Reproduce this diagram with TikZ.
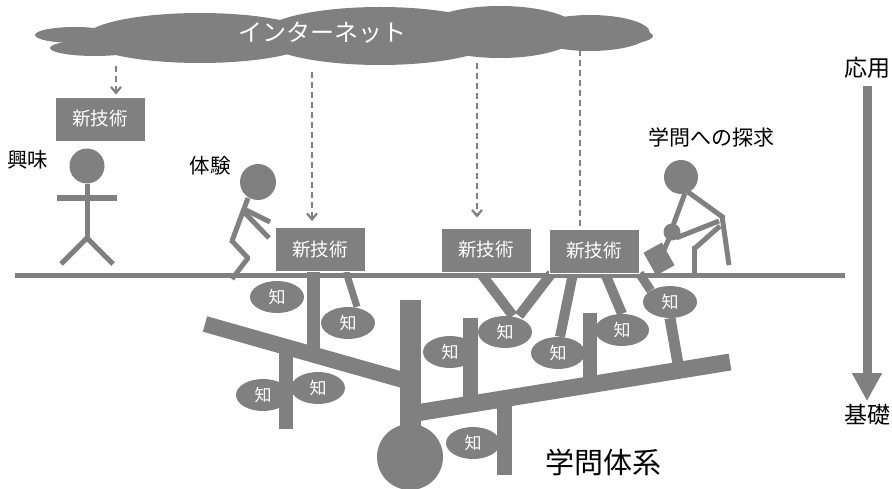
\documentclass[tikz,border=0pt]{standalone}
\usepackage{fontspec}
\setmainfont{Noto Sans CJK JP}
\usetikzlibrary{arrows.meta,shapes.geometric,backgrounds}
\definecolor{rootgray}{RGB}{128,128,128}

\begin{document}
\begin{tikzpicture}[x=1pt, y=-1pt,
  techbox/.style={rectangle, fill=rootgray, draw=white, line width=0.8pt, minimum width=90pt, minimum height=44pt, text=white, font=\fontsize{18.5}{20}\selectfont},
  chi/.style={ellipse, fill=rootgray, minimum width=54pt, minimum height=32pt, inner sep=0pt, text=white, font=\fontsize{17}{18}\selectfont},
  head/.style={circle, fill=rootgray, inner sep=0pt},
  stick/.style={draw=rootgray, line width=5pt},
  bar/.style={draw=rootgray},
  feed/.style={draw=rootgray, line width=2.2pt, dash pattern=on 6pt off 4pt, -{Straight Barb[length=6pt,width=10pt]}},
  lbl/.style={text=black, inner sep=0pt}]
\useasboundingbox (0,0) rectangle (892,489);

% the cloud
\fill[rootgray] (75,35) ellipse [x radius=40, y radius=8];
\fill[rootgray] (95,48) ellipse [x radius=45, y radius=8];
\fill[rootgray] (200,38) ellipse [x radius=115, y radius=25];
\fill[rootgray] (380,36) ellipse [x radius=120, y radius=29];
\fill[rootgray] (500,32) ellipse [x radius=80, y radius=26];
\fill[rootgray] (590,33) ellipse [x radius=60, y radius=18];
\fill[rootgray] (610,36) ellipse [x radius=43, y radius=9];
\node (net) [text=white, font=\fontsize{24}{26}\selectfont] at (322,33) {インターネット};

\coordinate (d1) at (116,66);
\coordinate (d2) at (312,72);
\coordinate (d3) at (477,63);
\coordinate (d4) at (580,50);

% ground
\draw[bar, line width=5pt] (15,276) -- (845,276);

% new technology boxes
\node (tech1) [techbox] at (100,119) {新技術};
\node (tech2) [techbox] at (320,249.5) {新技術};
\node (tech3) [techbox] at (486,250) {新技術};
\node (tech4) [techbox] at (594,251) {新技術};

\draw[feed, shorten >=2pt] (d1) -- (d1 |- tech1.north);
\draw[feed, shorten >=6pt] (d2) -- (d2 |- tech2.north);
\draw[feed, shorten >=10pt] (d3) -- (d3 |- tech3.north);
\begin{pgfonlayer}{background}
\draw[feed, shorten >=-9pt] (d4) -- (d4 |- tech4.north);
\end{pgfonlayer}

% the body of knowledge
\draw[bar, line width=21pt] (410,300) -- (410,440);
\fill[rootgray] (410,457) circle (33);
\draw[bar, line width=16pt] (205,324) -- (410,382);
\draw[bar, line width=17pt] (410,414) -- (730,362);
\draw[bar, line width=14pt] (286,347) -- (286,429);
\draw[bar, line width=15pt] (470,318) -- (470,404);
\draw[bar, line width=14pt] (590,313) -- (590,386);
\draw[bar, line width=15pt] (504,400) -- (504,475);

\node (k1) [chi] at (277,297) {知};
\node (k2) [chi] at (348,323) {知};
\node (k3) [chi] at (263,395) {知};
\node (k4) [chi] at (318,388) {知};
\node (k5) [chi] at (473,443) {知};
\node (k6) [chi] at (450,352) {知};
\node (k7) [chi] at (505,332) {知};
\node (k8) [chi] at (558,353) {知};
\node (k9) [chi] at (622,330) {知};
\node (k10) [chi] at (670,302) {知};

\begin{pgfonlayer}{background}
\draw[bar, line width=13pt] ([xshift=-7pt]tech2.south) -- ++(0,80);
\draw[bar, line width=7pt] ([xshift=26pt]tech2.south) -- ([xshift=9pt]k2.north);
\draw[bar, line width=10pt] ([xshift=-6pt]tech3.south) -- ([xshift=8pt]k7.north);
\draw[bar, line width=10pt] ([xshift=3pt]tech4.south west) -- ([xshift=14pt]k7.north);
\draw[bar, line width=10pt] ([xshift=-21pt]tech4.south) -- ([xshift=2pt]k8.north);
\draw[bar, line width=10pt] ([xshift=11pt]tech4.south) -- (k9.north);
\draw[bar, line width=9pt] (tech4.south east) -- (k10.north west);
\draw[bar, line width=11pt] (k10.south) -- (678,364);
\end{pgfonlayer}

% interest
\node (head1) [head, minimum size=35pt] at (87,166) {};
\draw[stick] (head1.south) -- (87,240);
\draw[stick, line width=6pt] (57,198) -- (117,198);
\draw[stick] (87,238) -- (61,264);
\draw[stick] (87,238) -- (113,264);

% experience
\node (head2) [head, minimum size=36pt] at (258,182) {};
\draw[stick] (248,198) -- (232,241);
\draw[stick] (246,210) -- (270,222);
\draw[stick] (245,213) -- (269,238);
\draw[stick, line join=bevel] (231,240) -- (248,258) -- (232,279);

% inquiry
\node (head3) [head, minimum size=34pt] at (681,177) {};
\draw[stick] (688,192) -- (724,218);
\draw[stick] (722,216) -- (729,265);
\draw[stick] (685,193) -- (671,231);
\draw[stick] (719,221) -- (676,238);
\draw[stick] (720,226) -- (694,249);
\draw[stick] (694,246) -- (694,276);
\node (hand) [head, minimum size=17pt] at (672,232) {};
\draw[stick] (hand.center) -- (663,252);
\node (blade) [rectangle, fill=rootgray, minimum width=21pt, minimum height=26pt, rotate=29] at (659,259) {};

% captions
\node (interest) [lbl, font=\fontsize{20.5}{22}\selectfont] at (28,160) {興味};
\node (experience) [lbl, font=\fontsize{20.5}{22}\selectfont] at (210,166) {体験};
\node (inquiry) [lbl, font=\fontsize{21}{23}\selectfont] at (711,137) {学問への探求};
\node (applied) [lbl, font=\fontsize{23}{25}\selectfont] at (867,68) {応用};
\node (basic) [lbl, font=\fontsize{23}{25}\selectfont] at (867,415) {基礎};
\node (system) [lbl, font=\fontsize{29}{31}\selectfont] at (603,462) {学問体系};

\draw[draw=rootgray, line width=9pt, -{Triangle[length=28pt,width=28pt]}] ([yshift=-7pt]applied.south) -- ([yshift=3pt]basic.north);

\end{tikzpicture}
\end{document}
